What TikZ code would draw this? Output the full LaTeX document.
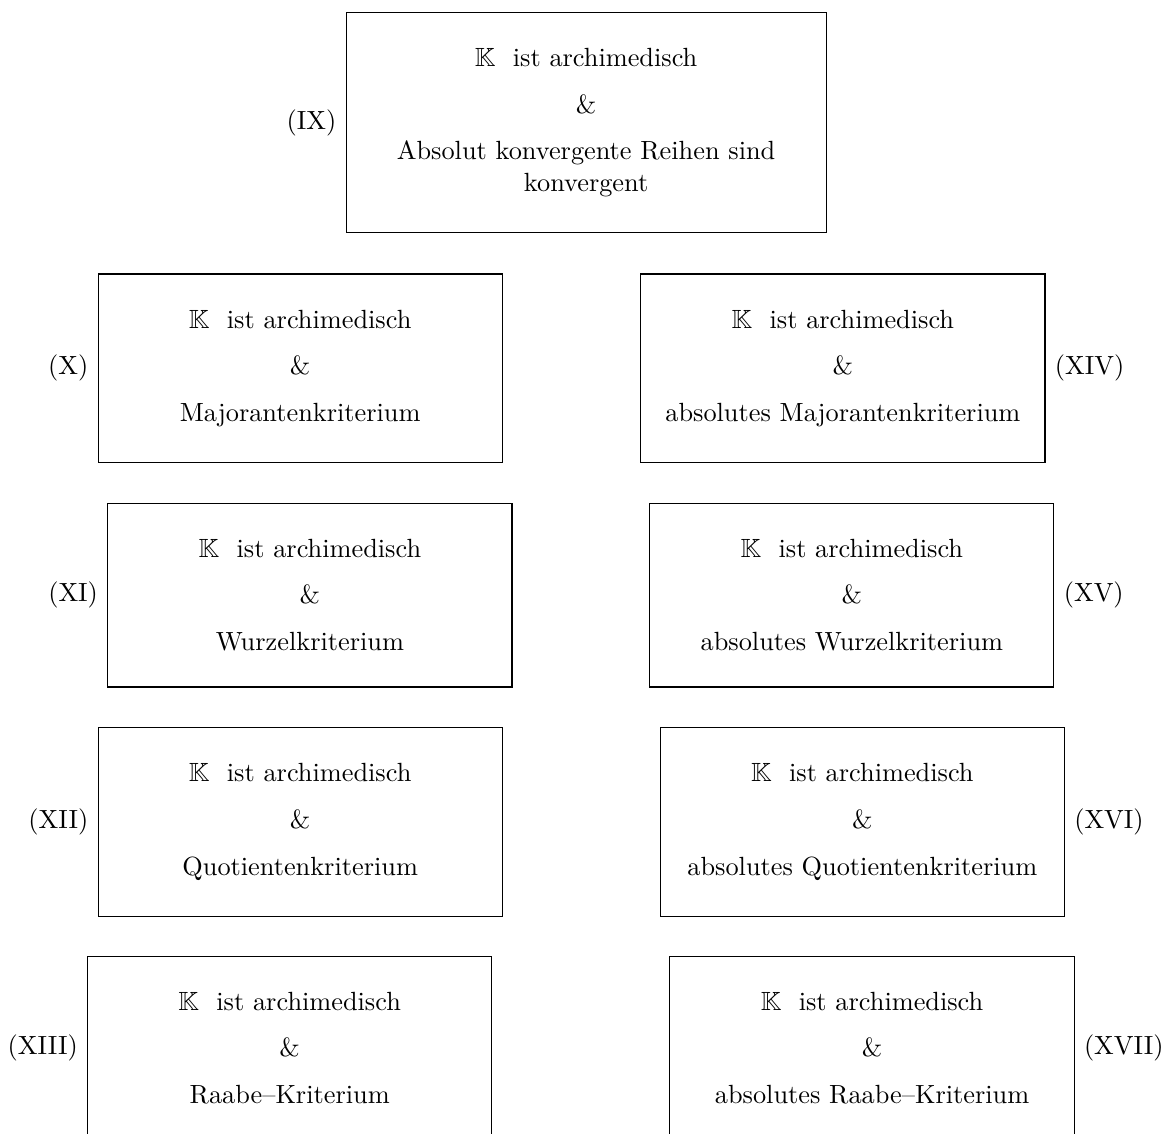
\documentclass[tikz,border=0pt]{standalone}
\usepackage{amsmath}
\usepackage{amsfonts}
\usepackage{amssymb}
\usepackage{tikz}

\newcommand{\KArch}{$\mathbb{K}$\ \ ist archimedisch \\[0.2cm] \& \\[0.2cm]}

\begin{document}
\begin{tikzpicture}[
		kriterium/.style={draw, align=flush center, text width=4.9cm, inner xsep=0.25cm, inner ysep=0.48cm},
		every label/.append style={rectangle}
	]
  \useasboundingbox (0cm, 0cm) rectangle (15.55cm, -15.14cm);
  \node (IX) [kriterium, text width=5.91cm, label={left:(IX)}] at (7.83cm, -1.64cm) {\KArch Absolut konvergente Reihen sind konvergent};
  % linke Spalte
  \node (X) [kriterium, label={left:(X)}] at (4.01cm, -4.92cm) {\KArch Majorantenkriterium};
  \node (XI) [kriterium, label={left:(XI)}] at (4.14cm, -7.95cm) {\KArch Wurzelkriterium};
  \node (XII) [kriterium, label={left:(XII)}] at (4.01cm, -10.98cm) {\KArch Quotientenkriterium};
  \node (XIII) [kriterium, label={left:(XIII)}] at (3.87cm, -14.0cm) {\KArch Raabe--Kriterium};
  % rechte Spalte
  \node (XIV) [kriterium, label={right:(XIV)}] at (11.26cm, -4.92cm) {\KArch absolutes Majorantenkriterium};
  \node (XV) [kriterium, label={right:(XV)}] at (11.38cm, -7.95cm) {\KArch absolutes Wurzelkriterium};
  \node (XVI) [kriterium, label={right:(XVI)}] at (11.52cm, -10.98cm) {\KArch absolutes Quotientenkriterium};
  \node (XVII) [kriterium, label={right:(XVII)}] at (11.65cm, -14.0cm) {\KArch absolutes Raabe--Kriterium};
\end{tikzpicture}
\end{document}
